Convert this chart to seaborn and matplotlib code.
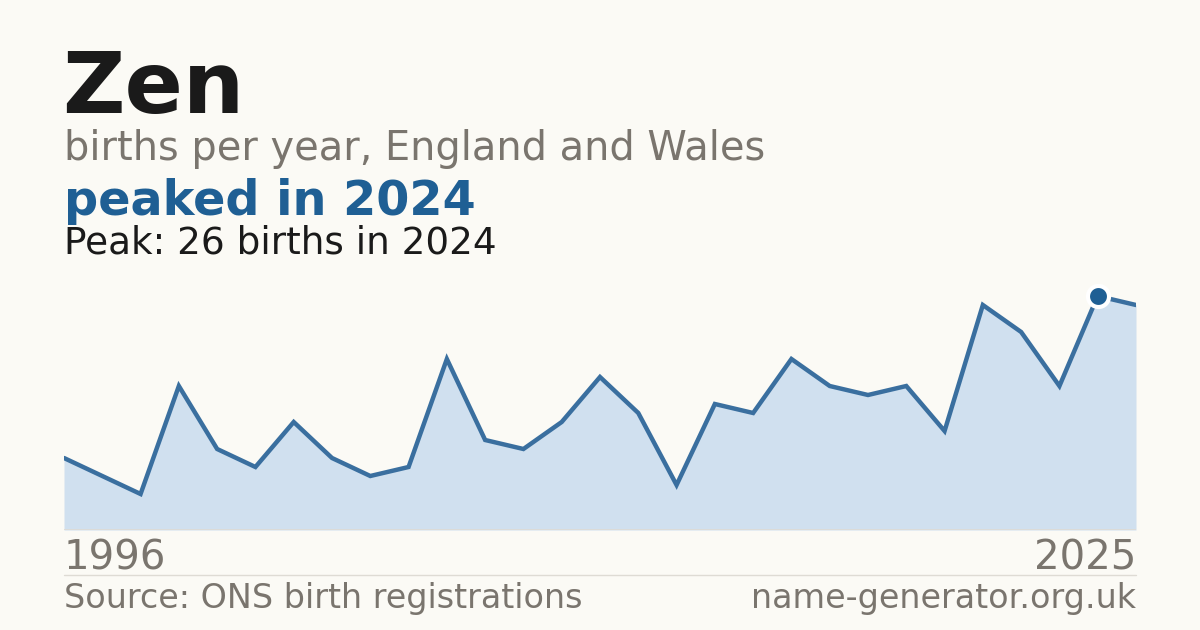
import numpy as np
import pandas as pd
import matplotlib
matplotlib.use("Agg")
import matplotlib.pyplot as plt
import seaborn as sns

# births per year (one year missing from the series, as in the source)
years = [1996] + list(range(1998, 2026))
births = [8, 6, 4, 16, 9, 7, 12, 8, 6, 7, 19, 10, 9, 12, 17, 13, 5, 14, 13,
          19, 16, 15, 16, 11, 25, 22, 16, 26, 25]

name = "Zen"
subtitle = "births per year, England and Wales"
source = "Source: ONS birth registrations"
site = "name-generator.org.uk"

BG = "#fbfaf5"
BLUE = "#1f5f94"
LINE = "#3a6f9f"
FILL = "#d0e0ef"
GREY = "#7a756e"
INK = "#1a1a1a"

sns.set_theme(style="white")
plt.rcParams["font.family"] = ["DejaVu Sans"]

df = pd.DataFrame({"idx": np.arange(len(years)), "year": years, "births": births})
peak_i = int(df["births"].idxmax())
peak_year = df.loc[peak_i, "year"]
peak_val = df.loc[peak_i, "births"]

W, H = 1200, 630
fig = plt.figure(figsize=(W / 100, H / 100), dpi=100, facecolor=BG)

ymax = peak_val * 1.1
px_per_unit = 9.0
top = 530 - ymax * px_per_unit
ax = fig.add_axes([64 / W, 1 - 530 / H, (1136 - 64) / W, (530 - top) / H])
ax.set_facecolor(BG)

ax.fill_between(df["idx"], df["births"], 0, color=FILL, linewidth=0, zorder=1)
sns.lineplot(data=df, x="idx", y="births", ax=ax, color=LINE, linewidth=3.2,
             zorder=2, solid_joinstyle="miter")
ax.scatter([peak_i], [peak_val], s=230, color=BLUE, edgecolor="white",
           linewidth=3, zorder=3)

ax.set_xlim(0, len(years) - 1)
ax.set_ylim(0, ymax)
ax.set_xticks([])
ax.set_yticks([])
ax.set_xlabel("")
ax.set_ylabel("")
for s in ax.spines.values():
    s.set_visible(False)
ax.axhline(0, color="#dedbd4", linewidth=1.2, zorder=1)

def fx(x):
    return x / W

def fy(y):
    return 1 - y / H

fig.text(fx(62), fy(113), name, fontsize=62, fontweight="bold", color=INK, va="baseline")
fig.text(fx(64), fy(160), subtitle, fontsize=28.7, color=GREY, va="baseline")
fig.text(fx(64), fy(215), f"peaked in {peak_year}", fontsize=34.4, fontweight="bold",
         color=BLUE, va="baseline")
fig.text(fx(64), fy(253), f"Peak: {peak_val} births in {peak_year}", fontsize=26.9,
         color=INK, va="baseline")

fig.text(fx(64), fy(570), str(years[0]), fontsize=29, color=GREY, va="baseline")
fig.text(fx(1136), fy(570), str(years[-1]), fontsize=29, color=GREY, va="baseline", ha="right")

fig.add_artist(plt.Line2D([fx(64), fx(1136)], [fy(575), fy(575)], color="#dedbd4", linewidth=1))

fig.text(fx(64), fy(608), source, fontsize=24, color=GREY, va="baseline")
fig.text(fx(1136), fy(608), site, fontsize=24, color=GREY, va="baseline", ha="right")

fig.savefig("out.png", dpi=100, facecolor=BG)
